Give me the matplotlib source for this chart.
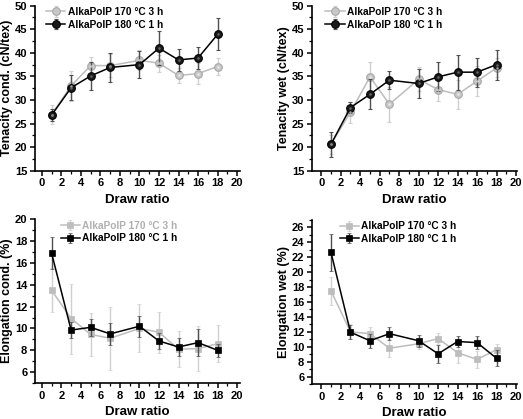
import numpy as np
import matplotlib
matplotlib.use("Agg")
import matplotlib.pyplot as plt
from matplotlib.ticker import MultipleLocator

plt.rcParams['font.family'] = ['Liberation Sans', 'DejaVu Sans']
plt.rcParams['font.weight'] = 'bold'

draw = [1, 3, 5, 7, 10, 12, 14, 16, 18]
lab170 = "AlkaPolP 170 °C 3 h"
lab180 = "AlkaPolP 180 °C 1 h"

# Tenacity cond. (cN/tex)
tc_170 = [26.9, 33.0, 37.3, 37.3, 38.4, 37.8, 35.2, 35.6, 37.1]
tc_170_err = [2.0, 3.2, 1.9, 2.5, 2.1, 1.8, 1.5, 2.2, 1.7]
tc_180 = [26.8, 32.6, 35.1, 36.9, 37.5, 41.0, 38.5, 38.9, 43.9]
tc_180_err = [1.3, 2.7, 3.0, 3.1, 2.8, 3.6, 2.3, 2.3, 3.4]

# Tenacity wet (cN/tex)
tw_170 = [20.6, 27.4, 34.9, 29.1, 34.4, 32.2, 31.2, 34.0, 36.8]
tw_170_err = [2.0, 2.2, 3.1, 3.7, 2.5, 2.4, 3.1, 3.2, 2.0]
tw_180 = [20.6, 28.4, 31.2, 34.2, 33.5, 34.9, 35.9, 35.9, 37.5]
tw_180_err = [2.6, 1.1, 3.2, 1.9, 3.1, 3.1, 3.7, 3.1, 3.2]

# Elongation cond. (%)
ec_170 = [13.5, 10.9, 9.45, 9.1, 10.0, 9.65, 8.1, 8.15, 8.6]
ec_170_err = [2.0, 3.2, 2.0, 2.9, 2.2, 1.9, 1.65, 2.05, 1.7]
ec_180 = [16.9, 9.85, 10.1, 9.5, 10.2, 8.85, 8.3, 8.7, 8.0]
ec_180_err = [1.45, 0.7, 0.8, 1.0, 0.95, 0.7, 0.85, 1.25, 0.6]

# Elongation wet (%)
ew_170 = [17.5, 12.0, 11.75, 9.8, 10.4, 11.1, 9.2, 8.3, 9.6]
ew_170_err = [1.9, 1.0, 0.85, 1.2, 0.7, 0.7, 1.4, 1.1, 0.8]
ew_180 = [22.65, 11.95, 10.8, 11.75, 10.8, 9.05, 10.7, 10.55, 8.45]
ew_180_err = [2.5, 0.95, 0.95, 0.9, 0.8, 1.2, 0.8, 0.9, 1.1]

W, H = 523, 419
fig = plt.figure(figsize=(W / 100, H / 100), dpi=100)

def px_axes(left, top, right, bottom):
    return fig.add_axes([left / W, 1 - bottom / H, (right - left) / W, (bottom - top) / H])

GRAY = '#bdbdbd'
GRAY_ERR = '#d0d0d0'
BLACK_ERR = '#505050'

def panel(ax, y170, e170, y180, e180, marker, ylabel, ylim, yticks, xlim, leg_x,
          gray_legend_text=False):
    if marker == 'o':
        kw170 = dict(marker='o', ms=5.5, mfc='#c8c8c8', mec='#a8a8a8', mew=0.8)
        kw180 = dict(marker='o', ms=5.5, mfc='#1a1a1a', mec='black', mew=0.8)
    else:
        kw170 = dict(marker='s', ms=4.3, mfc=GRAY, mec=GRAY, mew=0.5)
        kw180 = dict(marker='s', ms=4.3, mfc='black', mec='black', mew=0.5)
    ax.errorbar(draw, y170, yerr=e170, color=GRAY, ecolor=GRAY_ERR, elinewidth=1.0,
                capsize=1.5, capthick=0.8, lw=1.1, label=lab170, zorder=2, **kw170)
    ax.errorbar(draw, y180, yerr=e180, color='black', ecolor=BLACK_ERR, elinewidth=1.0,
                capsize=1.5, capthick=0.8, lw=1.1, label=lab180, zorder=3, **kw180)
    if marker == 'o':
        # small highlight to suggest the shaded sphere markers
        ax.plot(draw, y170, ls='none', marker='o', ms=1.8, mfc='white', mec='none', alpha=0.6, zorder=4)
        ax.plot(draw, y180, ls='none', marker='o', ms=1.8, mfc='#777777', mec='none', alpha=0.8, zorder=4)
    ax.set_xlim(*xlim)
    ax.set_ylim(*ylim)
    ax.xaxis.set_major_locator(MultipleLocator(2))
    ax.xaxis.set_minor_locator(MultipleLocator(1))
    ax.set_yticks(yticks)
    ax.yaxis.set_minor_locator(MultipleLocator((yticks[1] - yticks[0]) / 2))
    for s in ['top', 'right']:
        ax.spines[s].set_visible(False)
    for s in ['left', 'bottom']:
        ax.spines[s].set_linewidth(1.2)
    ax.tick_params(which='major', direction='out', length=3.5, width=1.1, labelsize=8, pad=2)
    ax.tick_params(which='minor', direction='out', length=2, width=0.9)
    for t in ax.get_xticklabels() + ax.get_yticklabels():
        t.set_fontweight('bold')
    ax.set_xlabel('Draw ratio', fontsize=9.5, fontweight='bold', labelpad=4)
    ax.set_ylabel(ylabel, fontsize=9, fontweight='bold', labelpad=1)
    leg = ax.legend(loc='upper left', bbox_to_anchor=(leg_x, 1.035), frameon=False,
                    prop={'size': 7.3, 'weight': 'bold'}, handlelength=1.9,
                    handletextpad=0.25, borderaxespad=0.3, labelspacing=0.25)
    if gray_legend_text:
        leg.get_texts()[0].set_color('#b0b0b0')

ax1 = px_axes(35, 5.7, 240, 170.7)
panel(ax1, tc_170, tc_170_err, tc_180, tc_180_err, 'o', 'Tenacity cond. (cN/tex)',
      (15, 50), list(range(15, 51, 5)), (-0.7, 20.3), 0.02)

ax2 = px_axes(312, 5.7, 517, 170.7)
panel(ax2, tw_170, tw_170_err, tw_180, tw_180_err, 'o', 'Tenacity wet (cN/tex)',
      (15, 50), list(range(15, 51, 5)), (-0.95, 20.1), 0.03)

ax3 = px_axes(35, 219.3, 240, 383)
panel(ax3, ec_170, ec_170_err, ec_180, ec_180_err, 's', 'Elongation cond. (%)',
      (5, 20), list(range(6, 21, 2)), (-0.7, 20.3), 0.09, gray_legend_text=True)

ax4 = px_axes(312, 220, 517, 384)
panel(ax4, ew_170, ew_170_err, ew_180, ew_180_err, 's', 'Elongation wet (%)',
      (5, 27), list(range(6, 27, 2)), (-0.95, 20.1), 0.1)

fig.savefig('out.png', dpi=100)
